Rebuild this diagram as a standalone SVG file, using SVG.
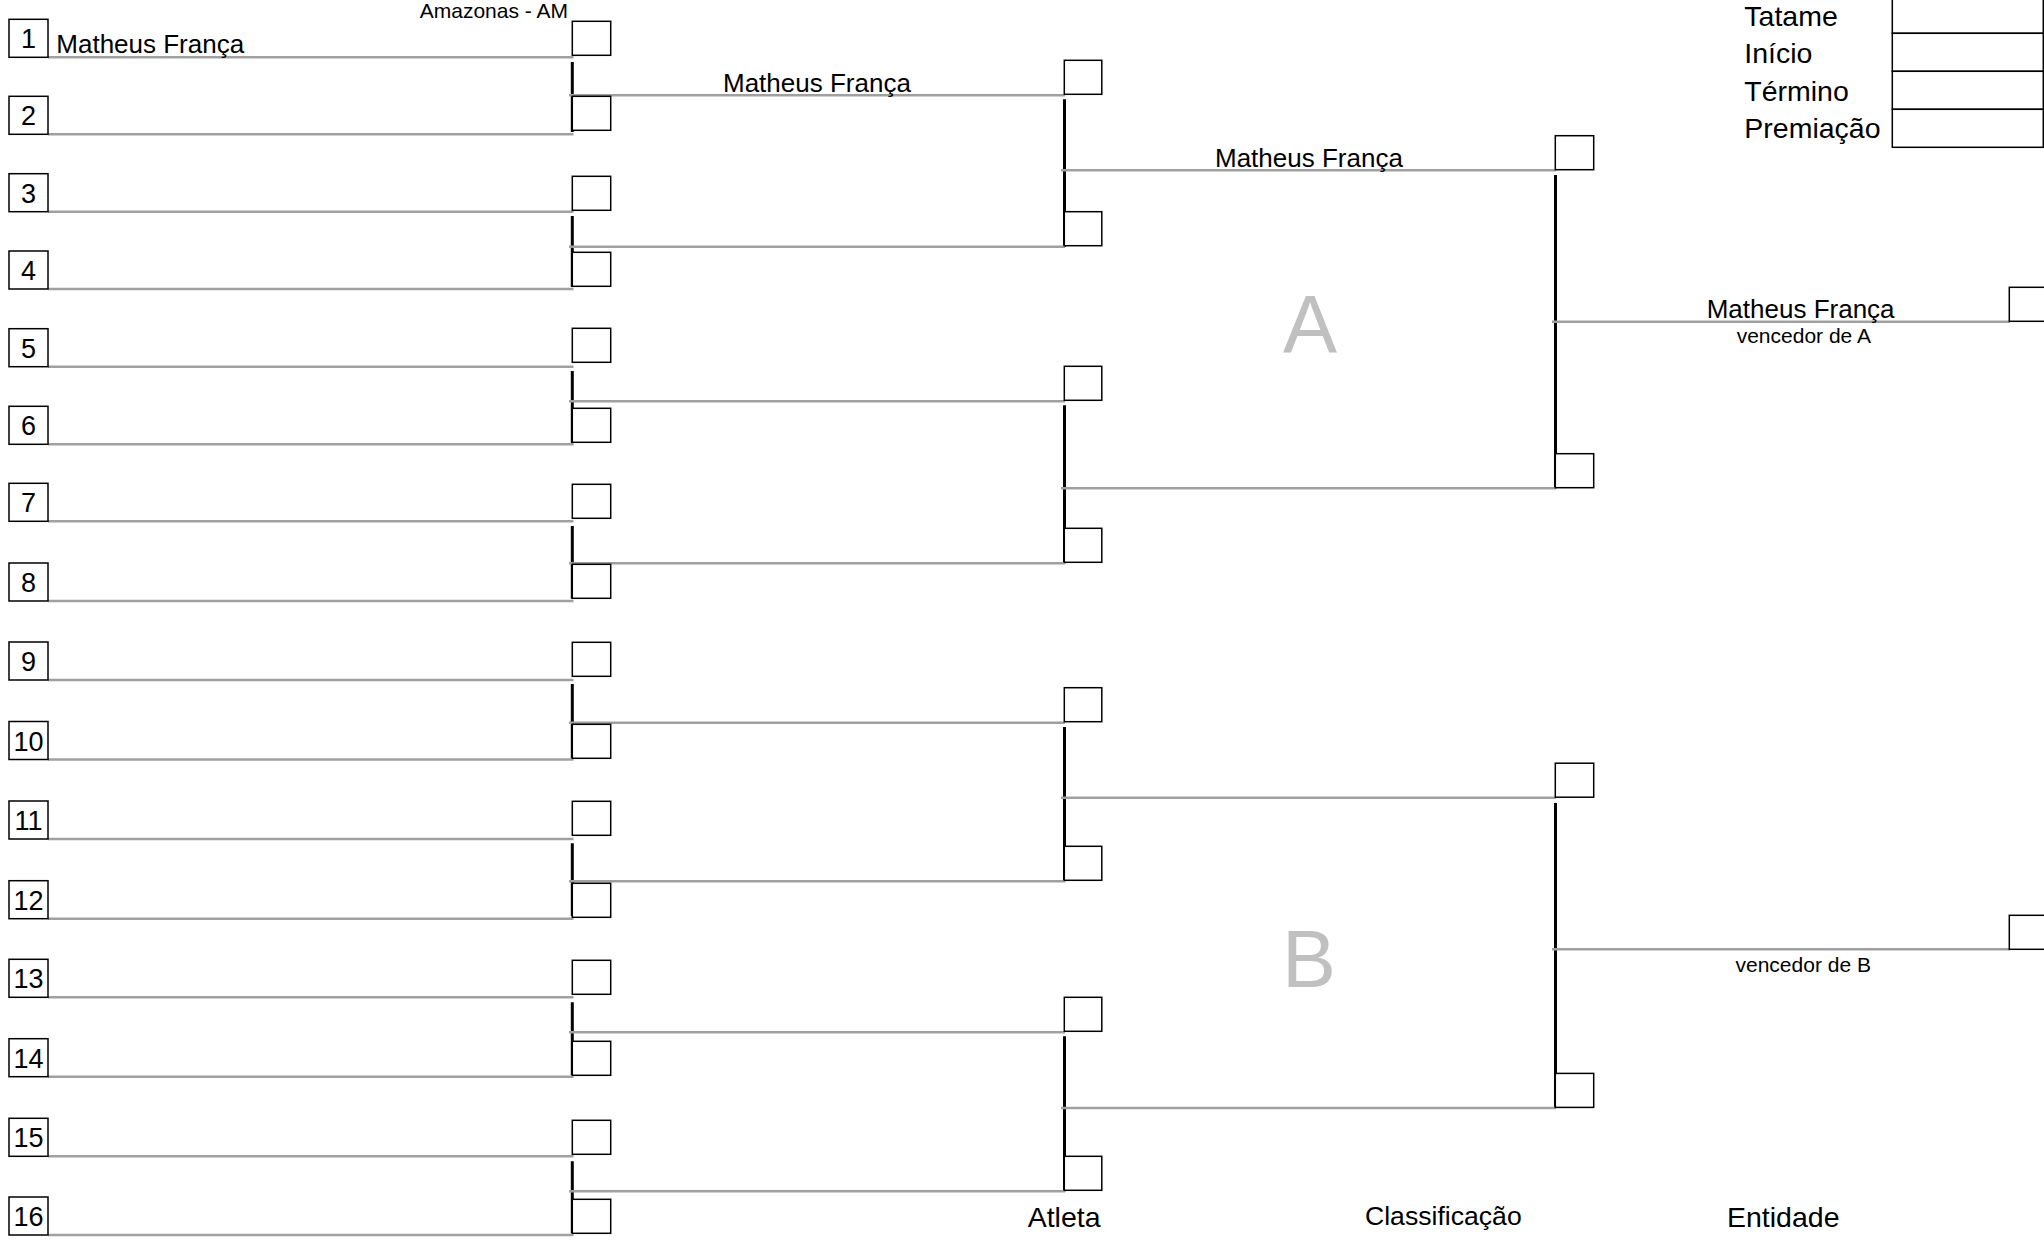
<svg xmlns="http://www.w3.org/2000/svg" width="2044" height="1240" viewBox="0 0 2044 1240">
<style>
.bg{fill:#ffffff}
.box{fill:#ffffff;stroke:#000000;stroke-width:1.5}
.v{stroke:#000000;stroke-width:3;fill:none}
.g{stroke:#a0a0a0;stroke-width:2.5;fill:none}
.t{font-family:"Liberation Sans",Arial,sans-serif;fill:#000000}
.num{font-size:27px;text-anchor:middle}
.name{font-size:26px}
.small{font-size:21px}
.head{font-size:28.5px}
.big{font-family:"Liberation Sans",Arial,sans-serif;font-size:81px;fill:#c0c0c0;text-anchor:middle}
</style>
<rect class="bg" x="0" y="0" width="2044" height="1240"/>

<g id="connectors">
  <!-- round 1 verticals -->
  <path class="v" d="M572.3 62V132 M572.3 216V287 M572.3 371V443.3 M572.3 526V598.7 M572.3 684V758.3 M572.3 843.3V916 M572.3 1002.3V1075.3 M572.3 1161.3V1233.3"/>
  <!-- round 2 verticals -->
  <path class="v" d="M1064.5 99.3V246.7 M1064.5 405.3V563.3 M1064.5 727V881.3 M1064.5 1036.3V1191.3"/>
  <!-- round 3 verticals -->
  <path class="v" d="M1555.5 175V488.3 M1555.5 802.9V1108"/>
  <!-- round 1 lines -->
  <path class="g" d="M48 57.3H573.5 M48 134.3H573.5 M48 211.7H573.5 M48 289H573.5 M48 366.7H573.5 M48 444.3H573.5 M48 521.3H573.5 M48 601H573.5 M48 680H573.5 M48 759.5H573.5 M48 839H573.5 M48 918.7H573.5 M48 997.3H573.5 M48 1076.7H573.5 M48 1156.3H573.5 M48 1235H573.5"/>
  <!-- round 2 lines -->
  <path class="g" d="M569 95.3H1065 M569 246.7H1065 M569 401.3H1065 M569 563.3H1065 M569 722.7H1065 M569 881.3H1065 M569 1032.3H1065 M569 1191.3H1065"/>
  <!-- round 3 lines -->
  <path class="g" d="M1061 170.3H1556 M1061 488.3H1556 M1061 797.8H1556 M1061 1108H1556"/>
  <!-- final lines -->
  <path class="g" d="M1552 321.7H2010 M1552 949.3H2010"/>
</g>

<g id="seeds">
  <g id="seed-1"><rect class="box" x="9" y="19.3" width="39" height="38"/><text class="t num" x="28.5" y="48.3">1</text></g>
  <g id="seed-2"><rect class="box" x="9" y="96.3" width="39" height="38"/><text class="t num" x="28.5" y="125.3">2</text></g>
  <g id="seed-3"><rect class="box" x="9" y="173.7" width="39" height="38"/><text class="t num" x="28.5" y="202.7">3</text></g>
  <g id="seed-4"><rect class="box" x="9" y="251" width="39" height="38"/><text class="t num" x="28.5" y="280">4</text></g>
  <g id="seed-5"><rect class="box" x="9" y="328.7" width="39" height="38"/><text class="t num" x="28.5" y="357.7">5</text></g>
  <g id="seed-6"><rect class="box" x="9" y="406.3" width="39" height="38"/><text class="t num" x="28.5" y="435.3">6</text></g>
  <g id="seed-7"><rect class="box" x="9" y="483.3" width="39" height="38"/><text class="t num" x="28.5" y="512.3">7</text></g>
  <g id="seed-8"><rect class="box" x="9" y="563" width="39" height="38"/><text class="t num" x="28.5" y="592">8</text></g>
  <g id="seed-9"><rect class="box" x="9" y="642" width="39" height="38"/><text class="t num" x="28.5" y="671">9</text></g>
  <g id="seed-10"><rect class="box" x="9" y="721.5" width="39" height="38"/><text class="t num" x="28.5" y="750.5">10</text></g>
  <g id="seed-11"><rect class="box" x="9" y="801" width="39" height="38"/><text class="t num" x="28.5" y="830">11</text></g>
  <g id="seed-12"><rect class="box" x="9" y="880.7" width="39" height="38"/><text class="t num" x="28.5" y="909.7">12</text></g>
  <g id="seed-13"><rect class="box" x="9" y="959.3" width="39" height="38"/><text class="t num" x="28.5" y="988.3">13</text></g>
  <g id="seed-14"><rect class="box" x="9" y="1038.7" width="39" height="38"/><text class="t num" x="28.5" y="1067.7">14</text></g>
  <g id="seed-15"><rect class="box" x="9" y="1118.3" width="39" height="38"/><text class="t num" x="28.5" y="1147.3">15</text></g>
  <g id="seed-16"><rect class="box" x="9" y="1197" width="39" height="38"/><text class="t num" x="28.5" y="1226">16</text></g>
</g>

<g id="round1-boxes">
  <rect id="r1-1" class="box" x="572.3" y="21.3" width="38.4" height="34"/>
  <rect id="r1-2" class="box" x="572.3" y="96.3" width="38.4" height="34"/>
  <rect id="r1-3" class="box" x="572.3" y="176.3" width="38.4" height="34"/>
  <rect id="r1-4" class="box" x="572.3" y="252.3" width="38.4" height="34"/>
  <rect id="r1-5" class="box" x="572.3" y="328.3" width="38.4" height="34"/>
  <rect id="r1-6" class="box" x="572.3" y="408.3" width="38.4" height="34"/>
  <rect id="r1-7" class="box" x="572.3" y="484.3" width="38.4" height="34"/>
  <rect id="r1-8" class="box" x="572.3" y="564.3" width="38.4" height="34"/>
  <rect id="r1-9" class="box" x="572.3" y="642.3" width="38.4" height="34"/>
  <rect id="r1-10" class="box" x="572.3" y="724.3" width="38.4" height="34"/>
  <rect id="r1-11" class="box" x="572.3" y="801.3" width="38.4" height="34"/>
  <rect id="r1-12" class="box" x="572.3" y="883.3" width="38.4" height="34"/>
  <rect id="r1-13" class="box" x="572.3" y="960.3" width="38.4" height="34"/>
  <rect id="r1-14" class="box" x="572.3" y="1041.3" width="38.4" height="34"/>
  <rect id="r1-15" class="box" x="572.3" y="1120.3" width="38.4" height="34"/>
  <rect id="r1-16" class="box" x="572.3" y="1199.3" width="38.4" height="34"/>
</g>

<g id="round2-boxes">
  <rect id="r2-1" class="box" x="1064.3" y="60.3" width="37.5" height="34"/>
  <rect id="r2-2" class="box" x="1064.3" y="211.7" width="37.5" height="34"/>
  <rect id="r2-3" class="box" x="1064.3" y="366.3" width="37.5" height="34"/>
  <rect id="r2-4" class="box" x="1064.3" y="528.3" width="37.5" height="34"/>
  <rect id="r2-5" class="box" x="1064.3" y="687.7" width="37.5" height="34"/>
  <rect id="r2-6" class="box" x="1064.3" y="846.3" width="37.5" height="34"/>
  <rect id="r2-7" class="box" x="1064.3" y="997.3" width="37.5" height="34"/>
  <rect id="r2-8" class="box" x="1064.3" y="1156.3" width="37.5" height="34"/>
</g>

<g id="round3-boxes">
  <rect id="r3-1" class="box" x="1555.3" y="135.7" width="38.4" height="34"/>
  <rect id="r3-2" class="box" x="1555.3" y="453.7" width="38.4" height="34"/>
  <rect id="r3-3" class="box" x="1555.3" y="763.2" width="38.4" height="34"/>
  <rect id="r3-4" class="box" x="1555.3" y="1073.4" width="38.4" height="34"/>
</g>

<g id="final-boxes">
  <rect id="final-a" class="box" x="2009.3" y="287.3" width="45" height="34"/>
  <rect id="final-b" class="box" x="2009.3" y="915.3" width="45" height="34"/>
</g>

<g id="labels">
  <text class="t small" x="568" y="18.3" text-anchor="end">Amazonas - AM</text>
  <text class="t name" x="56.3" y="53">Matheus França</text>
  <text class="t name" x="723" y="91.7">Matheus França</text>
  <text class="t name" x="1215" y="166.7">Matheus França</text>
  <text class="t name" x="1706.7" y="317.5">Matheus França</text>
  <text class="t small" x="1736.7" y="342.7">vencedor de A</text>
  <text class="t small" x="1735.5" y="971.7">vencedor de B</text>
  <text class="big" x="1310" y="352.3">A</text>
  <text class="big" x="1309" y="987.3">B</text>
</g>

<g id="info-table">
  <rect class="box" x="1892.3" y="-4.7" width="151" height="38"/>
  <rect class="box" x="1892.3" y="33.3" width="151" height="38"/>
  <rect class="box" x="1892.3" y="71.3" width="151" height="38"/>
  <rect class="box" x="1892.3" y="109.3" width="151" height="38"/>
  <text class="t head" x="1744.3" y="26">Tatame</text>
  <text class="t head" x="1744.3" y="63.3">Início</text>
  <text class="t head" x="1744.3" y="101">Término</text>
  <text class="t head" x="1744.3" y="138">Premiação</text>
</g>

<g id="footer">
  <text class="t head" x="1027.7" y="1226.7">Atleta</text>
  <text class="t" font-size="26.6" x="1365" y="1225">Classificação</text>
  <text class="t head" x="1727" y="1226.7">Entidade</text>
</g>
</svg>
